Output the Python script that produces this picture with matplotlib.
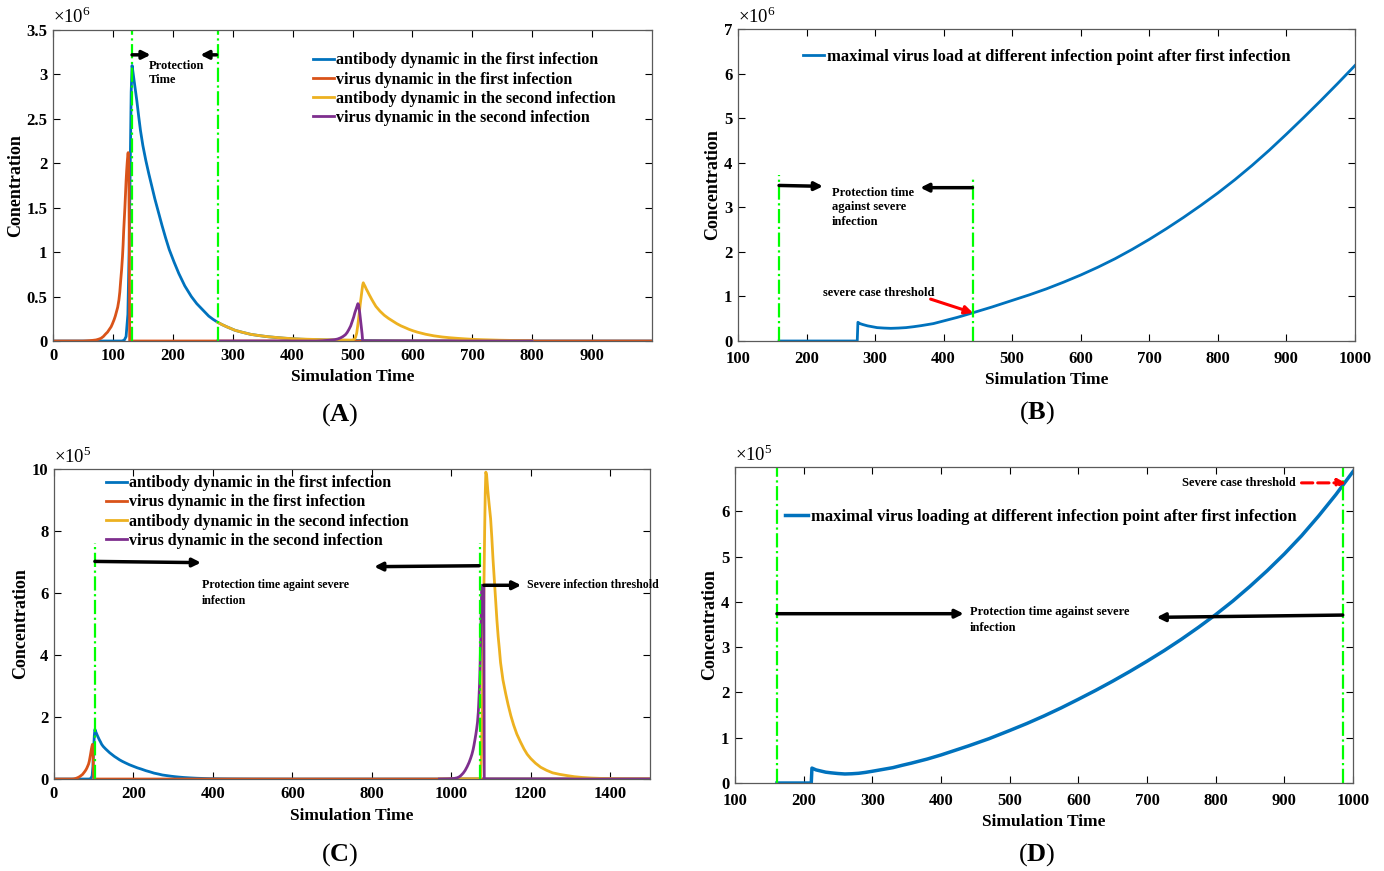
import matplotlib
matplotlib.use("Agg")
import matplotlib.pyplot as plt
from matplotlib.ticker import FuncFormatter

plt.rcParams['font.family'] = ['Liberation Serif', 'DejaVu Serif']
plt.rcParams['mathtext.fontset'] = 'custom'
plt.rcParams['mathtext.rm'] = 'Liberation Serif'
plt.rcParams['mathtext.bf'] = 'Liberation Serif:bold'

# MATLAB default colours
BLUE = '#0072BD'
ORANGE = '#D95319'
YELLOW = '#EDB120'
PURPLE = '#7E2F8E'
GREEN = '#00FF00'

# ---------------- panel A data (values x 1e6) ----------------
a_ab1_t = [0, 115, 119, 122, 125, 127, 129, 130.5, 132, 134, 137, 140, 143, 146, 150, 155, 160, 165, 170,
           176, 182, 188, 194, 202, 210, 220, 231, 240, 250, 260, 267, 275, 282, 290, 297, 304, 315, 330,
           345, 359, 372, 385, 400, 414, 450, 500, 550, 600, 700, 1000]
a_ab1_v = [0, 0, 0.01, 0.05, 0.3, 1.0, 2.0, 2.8, 3.1, 3.0, 2.85, 2.7, 2.53, 2.37, 2.2, 2.03, 1.88, 1.74, 1.6,
           1.45, 1.3, 1.16, 1.03, 0.89, 0.76, 0.62, 0.5, 0.42, 0.35, 0.28, 0.245, 0.21, 0.185, 0.16, 0.14,
           0.12, 0.1, 0.075, 0.06, 0.048, 0.04, 0.032, 0.025, 0.02, 0.012, 0.006, 0.003, 0.001, 0, 0]
a_v1_t = [0, 50, 56, 61, 66, 72, 76, 80, 84, 88, 91, 94, 97, 99, 102, 104, 106, 108, 110, 111.5, 113,
          114.5, 116, 117, 118, 119, 120, 121, 122, 123, 124, 125, 125.5, 126.5, 127.5, 128, 1000]
a_v1_v = [0, 0, 0.002, 0.004, 0.007, 0.012, 0.02, 0.03, 0.05, 0.08, 0.1, 0.13, 0.16, 0.19, 0.24, 0.28, 0.33,
          0.38, 0.46, 0.55, 0.68, 0.8, 0.95, 1.08, 1.24, 1.37, 1.5, 1.65, 1.8, 1.92, 2.02, 2.1, 2.12, 2.0,
          1.0, 0, 0]
a_ab2_t = [275, 282, 290, 297, 304, 315, 330, 345, 359, 372, 385, 400, 414, 450, 480, 500, 503, 505, 507,
           508.5, 510, 511.5, 513, 514.5, 516, 517, 518, 519, 521, 523, 525, 528, 532, 535, 539, 546, 553,
           560, 567, 574, 581, 588, 594, 601, 608, 615, 622, 636, 650, 662, 675, 688, 700, 715, 730, 745,
           761, 780, 800]
a_ab2_v = [0.21, 0.185, 0.16, 0.14, 0.12, 0.1, 0.075, 0.06, 0.048, 0.04, 0.033, 0.026, 0.022, 0.015, 0.011,
           0.01, 0.02, 0.04, 0.09, 0.16, 0.24, 0.33, 0.42, 0.5, 0.58, 0.63, 0.655, 0.64, 0.615, 0.585, 0.56,
           0.52, 0.47, 0.435, 0.39, 0.335, 0.29, 0.255, 0.225, 0.195, 0.17, 0.15, 0.132, 0.115, 0.1, 0.088,
           0.076, 0.058, 0.045, 0.037, 0.03, 0.024, 0.019, 0.015, 0.012, 0.009, 0.007, 0.005, 0.003]
a_v2_t = [275, 440, 450, 460, 470, 475, 480, 484, 488, 491, 494, 497, 500, 502, 504, 506, 507.5, 509, 510,
          512, 514, 516, 517, 800]
a_v2_v = [0, 0, 0.003, 0.008, 0.015, 0.022, 0.035, 0.05, 0.07, 0.095, 0.13, 0.17, 0.23, 0.27, 0.32, 0.36,
          0.39, 0.42, 0.41, 0.32, 0.2, 0.08, 0, 0]
a_green = [132, 275]

# ---------------- panel B data (values x 1e6) ----------------
b_t = [160, 274, 275, 278, 282, 289, 296, 303, 313, 323, 334, 345, 356, 367, 385, 400, 420, 442, 470, 500,
       525, 550, 575, 600, 625, 650, 675, 700, 725, 750, 775, 800, 825, 850, 875, 900, 925, 950, 975, 1000]
b_v = [0, 0, 0.42, 0.39, 0.37, 0.34, 0.32, 0.30, 0.29, 0.284, 0.29, 0.30, 0.32, 0.344, 0.39, 0.45, 0.53,
       0.63, 0.76, 0.91, 1.035, 1.17, 1.32, 1.48, 1.655, 1.845, 2.055, 2.28, 2.52, 2.773, 3.04, 3.32, 3.62,
       3.94, 4.28, 4.64, 5.01, 5.39, 5.78, 6.18]
b_green = [160, 443]

# ---------------- panel C data (values x 1e5) ----------------
c_ab1_t = [0, 88, 93, 96, 98, 100, 101.5, 103, 106, 110, 114, 117, 120, 124, 130, 135, 140, 146, 152, 158,
           165, 172, 180, 190, 200, 210, 220, 231, 242, 252, 263, 273, 284, 295, 305, 315, 326, 343, 360,
           376, 393, 420, 450, 500, 600, 1500]
c_ab1_v = [0, 0, 0.02, 0.1, 0.4, 1.0, 1.4, 1.6, 1.5, 1.38, 1.27, 1.2, 1.12, 1.05, 0.97, 0.91, 0.85, 0.79,
           0.73, 0.68, 0.62, 0.57, 0.52, 0.46, 0.41, 0.36, 0.32, 0.27, 0.23, 0.19, 0.16, 0.13, 0.11, 0.09,
           0.075, 0.062, 0.05, 0.036, 0.025, 0.018, 0.012, 0.008, 0.005, 0.002, 0, 0]
c_v1_t = [0, 45, 50, 55, 60, 65, 69, 72, 75, 78, 81, 83, 85, 87, 89, 91, 92.5, 94, 95.5, 97, 98, 99, 100, 1500]
c_v1_v = [0, 0, 0.005, 0.02, 0.045, 0.08, 0.12, 0.15, 0.2, 0.25, 0.31, 0.36, 0.42, 0.48, 0.58, 0.72, 0.83,
          0.95, 1.05, 1.12, 1.0, 0.5, 0, 0]
c_ab2_t = [970, 1070, 1074, 1076, 1078, 1080, 1082, 1084, 1085.5, 1087, 1089, 1092, 1095, 1099, 1102, 1105,
           1108, 1112, 1115, 1118, 1121, 1124, 1130, 1137, 1143, 1150, 1157, 1165, 1174, 1183, 1191, 1200,
           1212, 1225, 1240, 1255, 1273, 1292, 1310, 1330, 1352, 1376, 1400, 1430, 1465, 1500]
c_ab2_v = [0, 0.005, 0.05, 0.8, 2.3, 4.0, 6.0, 8.0, 9.2, 9.9, 9.8, 9.3, 8.9, 8.4, 7.8, 7.1, 6.5, 5.7, 5.1,
           4.6, 4.2, 3.76, 3.2, 2.75, 2.4, 2.04, 1.74, 1.45, 1.2, 0.97, 0.8, 0.66, 0.51, 0.38, 0.28, 0.2,
           0.15, 0.11, 0.075, 0.05, 0.032, 0.02, 0.013, 0.008, 0.005, 0.004]
c_v2_t = [970, 990, 1000, 1008, 1015, 1020, 1024, 1030, 1035, 1040, 1045, 1049, 1052, 1055, 1057, 1060, 1062,
          1064, 1066, 1068, 1069, 1070, 1071, 1072, 1073, 1074, 1075, 1076, 1076.5, 1082, 1083, 1500]
c_v2_v = [0, 0.005, 0.01, 0.02, 0.04, 0.07, 0.11, 0.19, 0.28, 0.4, 0.54, 0.68, 0.8, 0.95, 1.08, 1.3, 1.45,
          1.63, 1.83, 2.15, 2.4, 2.7, 3.0, 3.4, 3.9, 4.5, 5.2, 5.8, 6.25, 6.25, 0, 0]
c_green = [103, 1072]

# ---------------- panel D data (values x 1e5) ----------------
d_t = [161, 211, 212, 218, 225, 232, 240, 250, 260, 270, 280, 290, 300, 315, 330, 343, 357, 380, 400, 420,
       440, 470, 500, 525, 550, 575, 600, 625, 650, 675, 700, 725, 750, 775, 800, 825, 850, 875, 900, 925,
       950, 975, 1000]
d_v = [0, 0, 0.33, 0.29, 0.265, 0.24, 0.225, 0.21, 0.2, 0.205, 0.215, 0.235, 0.26, 0.3, 0.34, 0.39, 0.44,
       0.53, 0.62, 0.72, 0.82, 0.98, 1.16, 1.315, 1.482, 1.66, 1.85, 2.045, 2.25, 2.465, 2.69, 2.925, 3.175,
       3.44, 3.72, 4.02, 4.345, 4.69, 5.06, 5.46, 5.90, 6.37, 6.88]
d_green = [161, 985]

legend4 = ['antibody dynamic in the first infection', 'virus dynamic in the first infection',
           'antibody dynamic in the second infection', 'virus dynamic in the second infection']

fig = plt.figure(figsize=(13.84, 8.71), dpi=100)
axA = fig.add_axes([0.0383, 0.6085, 0.4328, 0.3571])
axB = fig.add_axes([0.5332, 0.6085, 0.4458, 0.3582])
axC = fig.add_axes([0.0390, 0.1056, 0.4306, 0.3559])
axD = fig.add_axes([0.5311, 0.1010, 0.4465, 0.3628])

fmt = FuncFormatter(lambda v, p: '%g' % v)


def style(ax, xlim, ylim, xticks, yticks, power, xpad=5):
    ax.set_xlim(*xlim)
    ax.set_ylim(*ylim)
    ax.set_xticks(xticks)
    ax.set_yticks(yticks)
    ax.yaxis.set_major_formatter(fmt)
    ax.tick_params(direction='in', top=True, right=True, length=5, width=0.8, labelsize=12)
    ax.tick_params(axis='x', pad=xpad)
    ax.tick_params(axis='y', pad=4)
    for lab in ax.get_xticklabels() + ax.get_yticklabels():
        lab.set_fontweight('bold')
    for s in ax.spines.values():
        s.set_color('#5a5a5a')
        s.set_linewidth(0.9)
    ax.set_xlabel('Simulation Time', fontsize=12.5, fontweight='bold', labelpad=4)
    ax.text(0.0, 1.008, r'$\times10^{%d}$' % power, transform=ax.transAxes, fontsize=13.5,
            ha='left', va='bottom')


def arrow(ax, tail, head, color='k', lw=2.5, ls='-'):
    ax.annotate('', xy=head, xytext=tail,
                arrowprops=dict(arrowstyle='-|>', color=color, lw=lw, linestyle=ls,
                                mutation_scale=12, shrinkA=0, shrinkB=0))


note = dict(fontsize=9, fontweight='bold')
leg = dict(frameon=False, loc='upper left', handlelength=1.3, handletextpad=0.15, labelspacing=0.2,
           borderpad=0, borderaxespad=0)

# ---- A ----
axA.plot(a_ab1_t, a_ab1_v, color=BLUE, lw=2)
axA.plot(a_v1_t, a_v1_v, color=ORANGE, lw=2)
axA.plot(a_ab2_t, a_ab2_v, color=YELLOW, lw=2)
axA.plot(a_v2_t, a_v2_v, color=PURPLE, lw=2)
for g in a_green:
    axA.axvline(g, color=GREEN, ls='-.', lw=1.6)
style(axA, (0, 1000), (0, 3.5), range(0, 1000, 100), [0, 0.5, 1, 1.5, 2, 2.5, 3, 3.5], 6)
axA.set_ylabel('Conentration', fontsize=13, fontweight='bold', labelpad=2)
axA.legend(legend4, bbox_to_anchor=(0.434, 0.928), prop={'weight': 'bold', 'size': 11.5}, **leg)
arrow(axA, (132, 3.22), (163, 3.22))
arrow(axA, (273, 3.22), (246, 3.22))
axA.text(160, 3.16, 'Protection\nTime', va='top', ha='left', linespacing=1.25, **note)

# ---- B ----
axB.plot(b_t, b_v, color=BLUE, lw=2)
axB.plot([b_green[0]] * 2, [0, 3.72], color=GREEN, ls='-.', lw=1.6)
axB.plot([b_green[1]] * 2, [0, 3.66], color=GREEN, ls='-.', lw=1.6)
style(axB, (100, 1000), (0, 7), range(100, 1001, 100), range(0, 8), 6, xpad=7)
axB.set_ylabel('Concentration', fontsize=13, fontweight='bold', labelpad=2)
axB.legend(['maximal virus load at different infection point after first infection'],
           bbox_to_anchor=(0.105, 0.937), prop={'weight': 'bold', 'size': 12}, **leg)
arrow(axB, (160, 3.49), (224, 3.47))
arrow(axB, (442, 3.44), (366, 3.44))
axB.text(237, 3.45, 'Protection time\nagainst severe\ninfection', va='top', ha='left', linespacing=1.25,
         **note)
axB.text(224, 1.08, 'severe case threshold', va='center', ha='left', **note)
arrow(axB, (381, 0.94), (443, 0.63), color='#FF0000', lw=2.2)

# ---- C ----
axC.plot(c_ab1_t, c_ab1_v, color=BLUE, lw=2)
axC.plot(c_v1_t, c_v1_v, color=ORANGE, lw=2)
axC.plot(c_ab2_t, c_ab2_v, color=YELLOW, lw=2)
axC.plot(c_v2_t, c_v2_v, color=PURPLE, lw=2)
for g in c_green:
    axC.plot([g, g], [0, 7.6], color=GREEN, ls='-.', lw=1.6)
style(axC, (0, 1500), (0, 10), range(0, 1500, 200), range(0, 11, 2), 5)
axC.set_ylabel('Concentration', fontsize=13, fontweight='bold', labelpad=2)
axC.legend(legend4, bbox_to_anchor=(0.087, 0.98), prop={'weight': 'bold', 'size': 11.5}, **leg)
arrow(axC, (103, 7.02), (370, 6.98))
arrow(axC, (1070, 6.88), (806, 6.85))
arrow(axC, (1082, 6.25), (1176, 6.25))
axC.text(373, 6.45, 'Protection time againt severe\ninfection', va='top', ha='left', linespacing=1.4,
         fontsize=8.6, fontweight='bold')
axC.text(1191, 6.26, 'Severe infection threshold', va='center', ha='left', clip_on=False,
         fontsize=8.6, fontweight='bold')

# ---- D ----
axD.plot(d_t, d_v, color=BLUE, lw=2.5)
for g in d_green:
    axD.axvline(g, color=GREEN, ls='-.', lw=1.6)
style(axD, (100, 1000), (0, 6.98), range(100, 1001, 100), range(0, 7), 5, xpad=7)
axD.set_ylabel('Concentration', fontsize=13, fontweight='bold', labelpad=2)
axD.legend(['maximal virus loading at different infection point after first infection'],
           bbox_to_anchor=(0.081, 0.868), prop={'weight': 'bold', 'size': 12},
           **dict(leg, handlelength=1.4))
arrow(axD, (161, 3.74), (433, 3.74))
arrow(axD, (985, 3.71), (714, 3.66))
axD.text(442, 3.9, 'Protection time against severe\ninfection', va='top', ha='left', linespacing=1.4,
         **note)
axD.text(916, 6.62, 'Severe case threshold', va='center', ha='right', **note)
arrow(axD, (925, 6.63), (990, 6.63), color='#FF0000', lw=2.2, ls='--')

# panel letters
for x, y, s in [(340, 415, 'A'), (1037, 413, 'B'), (340, 855, 'C'), (1037, 855, 'D')]:
    fig.text(x / 1384, 1 - y / 871, r'($\mathbf{%s}$)' % s, fontsize=19, ha='center', va='center')

fig.savefig('out.png', dpi=100)
